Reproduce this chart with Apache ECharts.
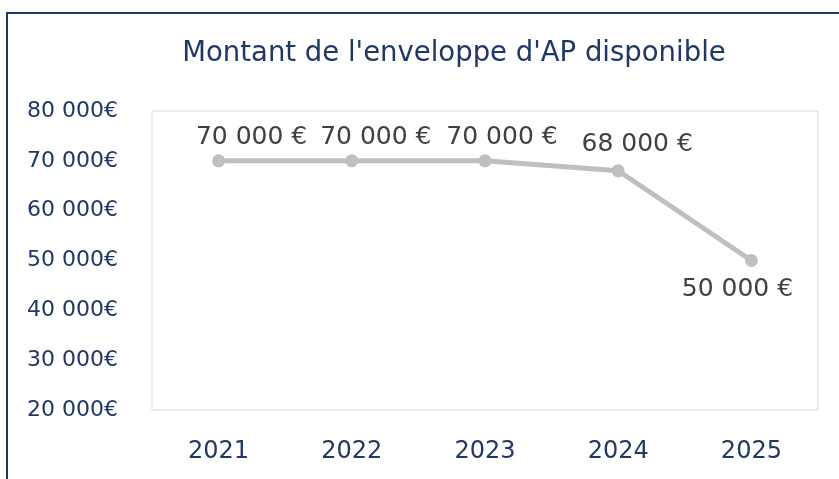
<!DOCTYPE html>
<html>
<head>
<meta charset="utf-8">
<style>
  html, body { margin: 0; padding: 0; background: #fff; }
  #chart { width: 839px; height: 479px; }
</style>
<script src="https://cdn.jsdelivr.net/npm/echarts@6/dist/echarts.min.js"></script>
</head>
<body>
<div id="chart"></div>
<script>
// données
const years = ["2021", "2022", "2023", "2024", "2025"];
const montants = [70000, 70000, 70000, 68000, 50000];

// placement des étiquettes (déplacées à la main dans l'original)
const labelPositions = ["top", "top", "top", "top", "bottom"];
const labelOffsets = [[33, 3], [24, 3], [17, 3], [19, 0], [-14, 3]];

const navy = "#1f3864";
const font = "DejaVu Sans";

function fmt(v) {
  return String(v).replace(/\B(?=(\d{3})+(?!\d))/g, " ");
}

const chart = echarts.init(document.getElementById("chart"));

const option = {
  animation: false,
  title: {
    text: "Montant de l'enveloppe d'AP disponible",
    left: 449,
    textAlign: "center",
    top: 35,
    textStyle: {
      color: navy,
      fontWeight: "normal",
      fontSize: 27.5,
      fontFamily: font
    }
  },
  graphic: [
    {
      type: "rect",
      shape: { x: 7, y: 13, width: 900, height: 600 },
      style: { fill: "none", stroke: navy, lineWidth: 2 }
    }
  ],
  grid: {
    left: 152,
    top: 111,
    right: 21,
    bottom: 69,
    show: true,
    borderColor: "#d9d9d9",
    borderWidth: 1
  },
  xAxis: {
    type: "category",
    data: years,
    boundaryGap: true,
    axisLine: { show: false },
    axisTick: { show: false },
    axisLabel: {
      color: navy,
      fontSize: 24,
      margin: 30,
      fontFamily: font
    }
  },
  yAxis: {
    type: "value",
    min: 20000,
    max: 80000,
    interval: 10000,
    splitLine: { show: false },
    axisLine: { show: false },
    axisTick: { show: false },
    axisLabel: {
      color: navy,
      fontSize: 22,
      align: "left",
      margin: 125,
      fontFamily: font,
      formatter: v => fmt(v) + "€"
    }
  },
  series: [
    {
      type: "line",
      data: montants.map((v, i) => ({
        value: v,
        label: { position: labelPositions[i], offset: labelOffsets[i] }
      })),
      symbol: "circle",
      symbolSize: 13,
      lineStyle: { color: "#bfbfbf", width: 5 },
      itemStyle: { color: "#bfbfbf" },
      label: {
        show: true,
        distance: 7,
        color: "#404040",
        fontSize: 25,
        fontFamily: font,
        formatter: p => fmt(p.value) + " €"
      }
    }
  ]
};

chart.setOption(option);
</script>
</body>
</html>
